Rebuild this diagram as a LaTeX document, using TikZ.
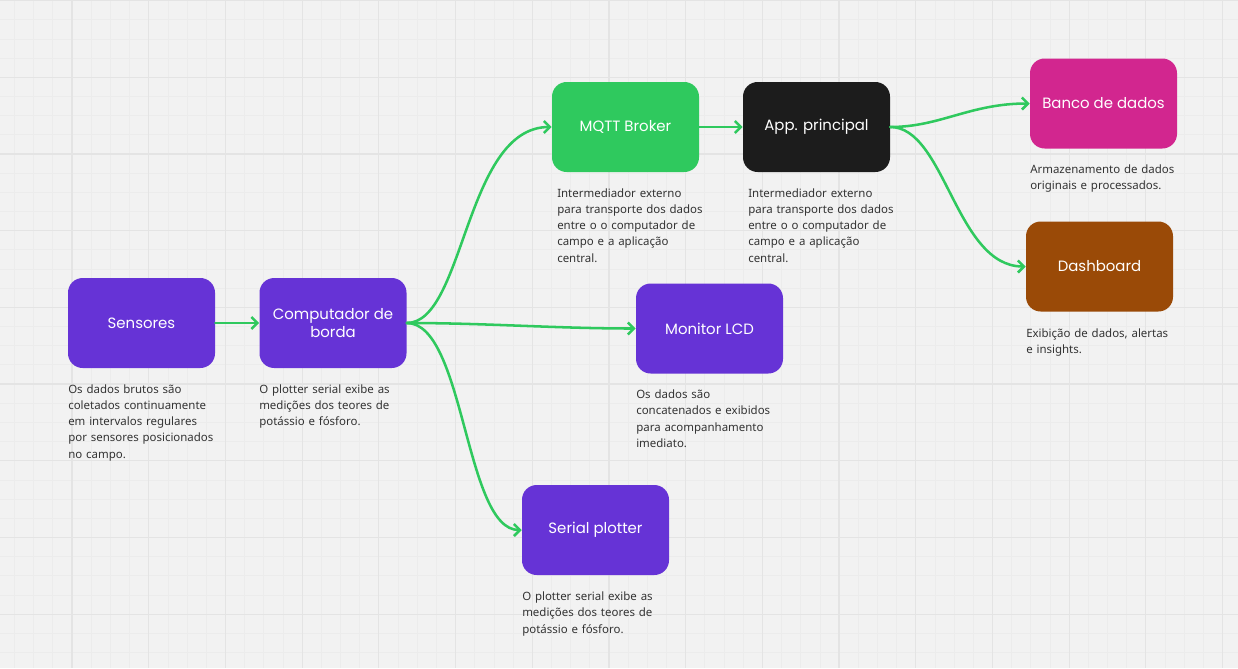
\documentclass[tikz,border=0pt]{standalone}
\usepackage{fontspec}
\setmainfont{Noto Sans}
\newfontfamily\boxfont{Poppins}
\usetikzlibrary{arrows.meta}
\definecolor{bg}{HTML}{F2F2F2}
\definecolor{gridminor}{HTML}{ECECEC}
\definecolor{gridmajor}{HTML}{E4E4E4}
\definecolor{cpurple}{HTML}{6633D6}
\definecolor{cgreen}{HTML}{2FC95E}
\definecolor{cmagenta}{HTML}{D2268F}
\definecolor{cbrown}{HTML}{9A4A07}
\definecolor{cblack}{HTML}{1C1C1C}
\definecolor{ctext}{HTML}{333333}
\tikzset{
  block/.style={draw=none, rounded corners=11pt, minimum width=110.25pt, minimum height=67.5pt,
    text=white, align=center, inner sep=0pt, font=\boxfont\fontsize{11.2}{13.5}\selectfont},
  desc/.style={anchor=base west, inner sep=0pt, align=left, text width=160pt, text=ctext,
    font=\fontsize{8.6}{12.2}\selectfont},
  link/.style={draw=cgreen, line width=1.9pt, line cap=round,
    -{Straight Barb[length=4.5pt,width=9pt]}},
}
\begin{document}
\begin{tikzpicture}[x=0.75pt,y=-0.75pt]
\useasboundingbox (0,0) rectangle (1238,668);
\fill[bg] (0,0) rectangle (1238,668);
% grid
\foreach \i in {0,...,66} {
  \draw[gridminor, line width=0.5pt] ({-4.7+19.175*\i},0) -- ({-4.7+19.175*\i},668);
}
\foreach \i in {0,...,35} {
  \draw[gridminor, line width=0.5pt] (0,{0.5+19.175*\i}) -- (1238,{0.5+19.175*\i});
}
\foreach \i in {0,...,17} {
  \draw[gridmajor, line width=0.9pt] ({-4.7+76.7*\i},0) -- ({-4.7+76.7*\i},668);
}
\foreach \i in {0,...,9} {
  \draw[gridmajor, line width=0.9pt] (0,{0.5+76.7*\i}) -- (1238,{0.5+76.7*\i});
}
% blocks
\node[block, fill=cpurple] (sens) at (141.5,323) {\raisebox{-1.2pt}{Sensores}};
\node[block, fill=cpurple] (comp) at (333,323) {Computador de\\borda};
\node[block, fill=cgreen] (mqtt) at (625.5,127) {\raisebox{-1.2pt}{MQTT Broker}};
\node[block, fill=cblack] (app) at (816.5,127) {\raisebox{-1.2pt}{App. principal}};
\node[block, fill=cmagenta] (banco) at (1103.5,103.5) {\raisebox{-1.2pt}{Banco de dados}};
\node[block, fill=cbrown] (dash) at (1099.5,266.5) {\raisebox{-1.2pt}{Dashboard}};
\node[block, fill=cpurple] (lcd) at (709.5,328.5) {\raisebox{-1.2pt}{Monitor LCD}};
\node[block, fill=cpurple] (serial) at (595.5,530) {\raisebox{-1.2pt}{Serial plotter}};
% descriptions
\node[desc] (dsens) at (68,393) {Os dados brutos são\\coletados continuamente\\em intervalos regulares\\por sensores posicionados\\no campo.};
\node[desc] (dcomp) at (259,393) {O plotter serial exibe as\\medições dos teores de\\potássio e fósforo.};
\node[desc] (dmqtt) at (557,197) {Intermediador externo\\para transporte dos dados\\entre o o computador de\\campo e a aplicação\\central.};
\node[desc] (dapp) at (748,197) {Intermediador externo\\para transporte dos dados\\entre o o computador de\\campo e a aplicação\\central.};
\node[desc] (dbanco) at (1030,173) {Armazenamento de dados\\originais e processados.};
\node[desc] (ddash) at (1026,337) {Exibição de dados, alertas\\e insights.};
\node[desc] (dlcd) at (636,398.5) {Os dados são\\concatenados e exibidos\\para acompanhamento\\imediato.};
\node[desc] (dserial) at (522,600.5) {O plotter serial exibe as\\medições dos teores de\\potássio e fósforo.};
% connectors
\draw[link] (sens.east) -- (comp.west);
\draw[link] (comp.east) .. controls +(58,0) and +(-87,0) .. (mqtt.west);
\draw[link] (comp.east) .. controls +(80,0) and +(-80,0) .. (lcd.west);
\draw[link] (comp.east) .. controls +(58,0) and +(-57,0) .. (serial.west);
\draw[link] (mqtt.east) -- (app.west);
\draw[link] (app.east) .. controls +(50,0) and +(-60,0) .. (banco.west);
\draw[link] (app.east) .. controls +(55,0) and +(-70,0) .. (dash.west);
\end{tikzpicture}
\end{document}
